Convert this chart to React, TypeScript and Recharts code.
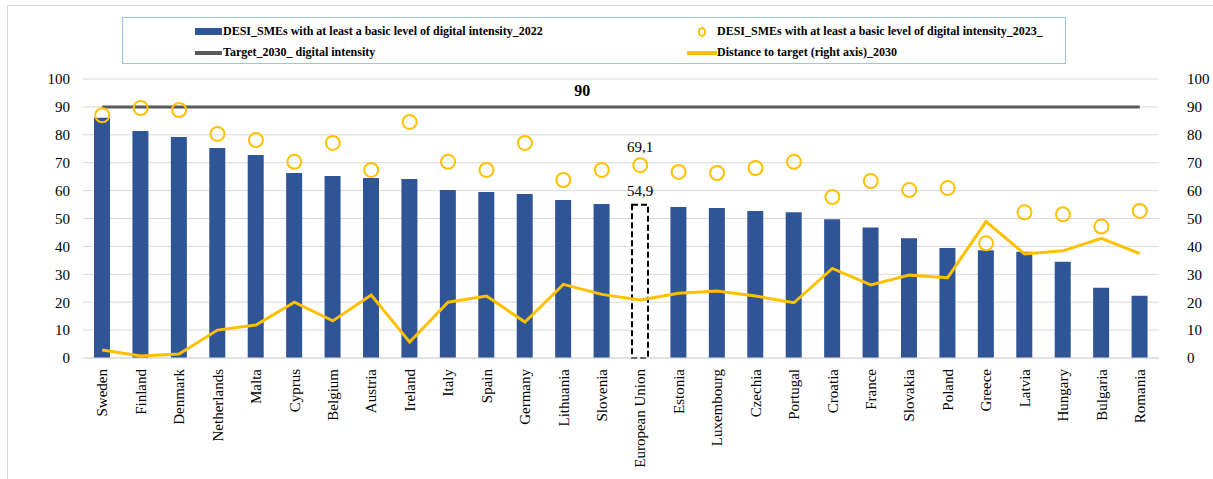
import React from "react";
import {
  ComposedChart,
  Bar,
  Line,
  XAxis,
  YAxis,
  CartesianGrid,
  Legend,
  Cell,
  LabelList,
} from "recharts";

const countries = [
  "Sweden", "Finland", "Denmark", "Netherlands", "Malta", "Cyprus", "Belgium",
  "Austria", "Ireland", "Italy", "Spain", "Germany", "Lithuania", "Slovenia",
  "European Union", "Estonia", "Luxembourg", "Czechia", "Portugal", "Croatia",
  "France", "Slovakia", "Poland", "Greece", "Latvia", "Hungary", "Bulgaria", "Romania",
];

const smes2022 = [
  86.1, 81.4, 79.2, 75.3, 72.8, 66.3, 65.2, 64.5, 64.2, 60.2, 59.5, 58.8, 56.6, 55.2,
  54.9, 54.1, 53.8, 52.7, 52.2, 49.7, 46.8, 42.9, 39.4, 38.6, 38.1, 34.5, 25.2, 22.3,
];

const smes2023 = [
  87.0, 89.6, 88.9, 80.3, 78.1, 70.3, 77.1, 67.4, 84.6, 70.3, 67.4, 77.1, 63.8, 67.4,
  69.1, 66.7, 66.3, 68.1, 70.3, 57.7, 63.4, 60.2, 60.9, 41.1, 52.2, 51.5, 47.1, 52.7,
];

const distance2030 = [
  2.9, 0.7, 1.4, 10.0, 11.8, 20.0, 13.3, 22.6, 5.7, 20.0, 22.2, 12.9, 26.4, 22.8,
  20.8, 23.2, 24.0, 22.2, 19.8, 32.1, 26.2, 29.7, 28.8, 48.9, 37.3, 38.4, 42.9, 37.4,
];

const target2030 = 90;
const yTicks = [0, 10, 20, 30, 40, 50, 60, 70, 80, 90, 100];

const seriesNames = {
  s2022: "DESI_SMEs with at least a basic level of digital intensity_2022",
  s2023: "DESI_SMEs with at least a basic level of digital intensity_2023_",
  target: "Target_2030_ digital intensity",
  dist: "Distance to target (right axis)_2030",
};

const data = countries.map((c, i) => ({
  name: c,
  s2022: smes2022[i],
  s2023: smes2023[i],
  target: target2030,
  dist: distance2030[i],
}));

const EU_INDEX = countries.indexOf("European Union");
const BLUE = "#2F5597";
const GOLD = "#FFC000";
const GRAY = "#595959";
const FONT = "'Liberation Serif', 'Times New Roman', serif";

const CategoryTick = (props: any) => {
  const { x, y, payload } = props;
  return (
    <text
      x={x}
      y={y}
      transform={`rotate(-90, ${x}, ${y})`}
      textAnchor="end"
      dy="0.35em"
      fontFamily={FONT}
      fontSize={15}
      fill="#000"
    >
      {payload.value}
    </text>
  );
};

const Circle = (props: any) => {
  const { cx, cy } = props;
  if (cx == null || cy == null) return null;
  return <circle cx={cx} cy={cy} r={7} fill="none" stroke={GOLD} strokeWidth={2} />;
};

const LegendBox = () => {
  const item = (icon: React.ReactNode, label: string) => (
    <div style={{ display: "flex", alignItems: "center", height: 21 }}>
      <div style={{ width: 30, display: "flex", justifyContent: "center", alignItems: "center" }}>{icon}</div>
      <span>{label}</span>
    </div>
  );
  return (
    <div style={{ height: 62, width: "100%" }}>
      <div
        style={{
          marginLeft: 114,
          width: 944,
          height: 47,
          border: "1px solid #9DC3E6",
          boxSizing: "border-box",
          fontFamily: FONT,
          fontWeight: "bold",
          fontSize: 12,
          color: "#000",
          position: "relative",
        }}
      >
        <div style={{ position: "absolute", left: 70, top: 3 }}>
          {item(<div style={{ width: 27, height: 7, background: BLUE }} />, seriesNames.s2022)}
          {item(<div style={{ width: 27, height: 4, background: GRAY }} />, seriesNames.target)}
        </div>
        <div style={{ position: "absolute", left: 564, top: 3 }}>
          {item(
            <div style={{ width: 8, height: 10, borderRadius: "50%", border: `2px solid ${GOLD}`, boxSizing: "border-box" }} />,
            seriesNames.s2023
          )}
          {item(<div style={{ width: 30, height: 4, background: GOLD }} />, seriesNames.dist)}
        </div>
      </div>
    </div>
  );
};

const TargetLabel = (props: any) => {
  const { x, y, index } = props;
  if (index !== 12) return null;
  return (
    <text x={x + 19} y={y - 16} textAnchor="middle" dominantBaseline="central" fontFamily={FONT} fontWeight="bold" fontSize={16} fill="#000">
      {String(target2030)}
    </text>
  );
};

const EuLabel = (props: any) => {
  const { x, y, width, index, value, gap } = props;
  if (index !== EU_INDEX) return null;
  const cx = width != null ? x + width / 2 : x;
  return (
    <text x={cx} y={y - gap} textAnchor="middle" dominantBaseline="central" fontFamily={FONT} fontSize={15} fill="#000">
      {String(value).replace(".", ",")}
    </text>
  );
};

export default function App() {
  return (
    <div style={{ position: "fixed", left: 0, top: 0, width: 1213, height: 479, overflow: "hidden", background: "#fff" }}>
      <div
        style={{
          position: "absolute",
          left: 7,
          top: 5,
          width: 1210,
          height: 480,
          borderLeft: "1px solid #d9d9d9",
          borderTop: "1px solid #d9d9d9",
          pointerEvents: "none",
        }}
      />
      <div style={{ position: "absolute", left: 8, top: 8 }}>
        <ComposedChart
          width={1205}
          height={471}
          data={data}
          margin={{ top: 9, right: 0, bottom: 8, left: 0 }}
          barSize={16}
        >
          <CartesianGrid horizontal vertical={false} stroke="#d9d9d9" yAxisId="left" />
          <XAxis
            dataKey="name"
            interval={0}
            tick={<CategoryTick />}
            tickSize={0}
            tickMargin={11}
            height={113}
            axisLine={{ stroke: "#d9d9d9" }}
            tickLine={false}
          />
          <YAxis
            yAxisId="left"
            domain={[0, 100]}
            ticks={yTicks}
            width={75}
            tickSize={0}
            tickMargin={13}
            axisLine={false}
            tickLine={false}
            tick={{ fontFamily: FONT, fontSize: 15, fill: "#000" }}
          />
          <YAxis
            yAxisId="right"
            orientation="right"
            domain={[0, 100]}
            ticks={yTicks}
            width={54}
            tickSize={0}
            tickMargin={28}
            axisLine={false}
            tickLine={false}
            tick={{ fontFamily: FONT, fontSize: 15, fill: "#000", textAnchor: "start" }}
          />
          <Legend verticalAlign="top" align="left" height={62} content={<LegendBox />} />
          <Bar yAxisId="left" dataKey="s2022" name={seriesNames.s2022} fill={BLUE} isAnimationActive={false}>
            {data.map((d, i) =>
              i === EU_INDEX ? (
                <Cell key={i} fill="#ffffff" stroke="#000" strokeWidth={2} strokeDasharray="6 3" />
              ) : (
                <Cell key={i} fill={BLUE} />
              )
            )}
            <LabelList dataKey="s2022" content={<EuLabel gap={14} />} />
          </Bar>
          <Line
            yAxisId="left"
            dataKey="target"
            name={seriesNames.target}
            stroke={GRAY}
            strokeWidth={3}
            dot={false}
            activeDot={false}
            isAnimationActive={false}
          >
            <LabelList dataKey="target" content={<TargetLabel />} />
          </Line>
          <Line
            yAxisId="right"
            dataKey="dist"
            name={seriesNames.dist}
            stroke={GOLD}
            strokeWidth={3}
            dot={false}
            activeDot={false}
            isAnimationActive={false}
          />
          <Line
            yAxisId="left"
            dataKey="s2023"
            name={seriesNames.s2023}
            stroke="none"
            dot={<Circle />}
            activeDot={false}
            isAnimationActive={false}
          >
            <LabelList dataKey="s2023" content={<EuLabel gap={18} />} />
          </Line>
        </ComposedChart>
      </div>
    </div>
  );
}
